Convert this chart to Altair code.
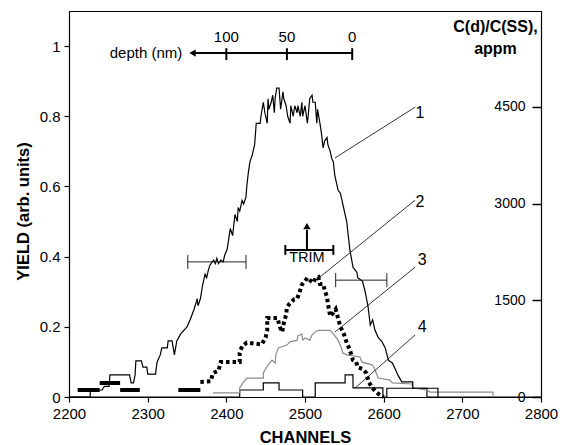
import altair as alt
import pandas as pd

# ---------------- data (channel, yield) ----------------
curve1 = [(2200,0),(2227,0),(2227,0.02),(2242,0.02),(2245,0.03),(2251,0.03),(2252,0.063),(2277,0.063),
          (2279,0.04),(2282,0.04),(2284,0.063),(2285,0.103),(2292,0.103),(2294,0.085),(2299,0.085),
          (2300,0.065),(2310,0.065),(2312,0.1),(2316,0.12),(2318,0.14),(2325,0.14),(2326,0.16),(2331,0.16),
          (2334,0.12),(2337,0.16),(2342,0.18),(2350,0.2),(2354,0.22),(2359,0.25),(2363,0.28),(2364,0.26),
          (2367,0.28),(2370,0.32),(2373,0.35),(2375,0.34),(2377,0.36),(2379,0.375),(2382,0.385),(2384,0.39),
          (2386,0.38),(2388,0.395),(2390,0.38),(2393,0.39),(2396,0.385),(2398,0.405),(2401,0.42),(2405,0.48),
          (2408,0.46),(2411,0.52),(2414,0.5),(2415,0.54),(2417,0.53),(2420,0.56),(2422,0.55),(2425,0.57),
          (2426,0.6),(2428,0.64),(2430,0.67),(2433,0.69),(2434,0.7),(2436,0.72),(2438,0.78),(2443,0.78),
          (2444,0.8),(2447,0.84),(2449,0.81),(2452,0.78),(2453,0.85),(2454,0.82),(2457,0.84),(2459,0.86),
          (2461,0.81),(2462,0.85),(2464,0.88),(2467,0.88),(2469,0.82),(2472,0.87),(2473,0.85),(2476,0.83),
          (2478,0.8),(2481,0.78),(2482,0.83),(2485,0.8),(2487,0.83),(2490,0.81),(2491,0.83),(2494,0.8),
          (2496,0.84),(2497,0.8),(2500,0.83),(2503,0.78),(2504,0.8),(2506,0.85),(2509,0.86),(2510,0.84),
          (2513,0.84),(2515,0.78),(2516,0.82),(2519,0.78),(2521,0.75),(2523,0.71),(2525,0.73),(2528,0.74),
          (2529,0.72),(2532,0.7),(2534,0.68),(2536,0.67),(2538,0.63),(2541,0.6),(2542,0.59),(2545,0.58),
          (2547,0.56),(2548,0.55),(2553,0.5),(2557,0.42),(2561,0.37),(2566,0.355),(2567,0.34),(2573,0.33),
          (2576,0.305),(2580,0.26),(2583,0.205),(2586,0.22),(2589,0.19),(2593,0.17),(2598,0.157),(2602,0.14),
          (2606,0.105),(2611,0.097),(2614,0.083),(2618,0.063),(2623,0.043),(2637,0.043),(2637,0.025),
          (2669,0.025),(2669,0)]

# curve 2: (channel, yield, segment)
curve2 = [(2211,0.02,0),(2239,0.02,0),(2239,0.04,1),(2265,0.04,1),(2265,0.02,2),(2290,0.02,2),
          (2339,0.02,3),(2367,0.02,3),
          (2367,0.043,4),(2380,0.045,4),(2383,0.068,4),(2390,0.075,4),(2393,0.1,4),(2417,0.1,4),(2417,0.125,4),
          (2420,0.145,4),(2426,0.155,4),(2445,0.15,4),(2450,0.17,4),(2452,0.19,4),(2452,0.225,4),(2465,0.225,4),
          (2468,0.2,4),(2471,0.185,4),(2473,0.21,4),(2476,0.235,4),(2477,0.255,4),(2480,0.265,4),(2486,0.278,4),
          (2490,0.28,4),(2494,0.305,4),(2496,0.32,4),(2500,0.33,4),(2503,0.34,4),(2510,0.325,4),(2514,0.34,4),
          (2517,0.342,4),(2519,0.322,4),(2523,0.322,4),(2525,0.305,4),(2528,0.285,4),(2529,0.268,4),(2532,0.23,4),
          (2536,0.24,4),(2539,0.25,4),(2542,0.225,4),(2545,0.2,4),(2549,0.182,4),(2553,0.155,4),(2557,0.134,4),
          (2561,0.105,4),(2565,0.1,4),(2567,0.085,4),(2573,0.08,4),(2578,0.068,4),(2581,0.043,4),(2585,0.028,4),
          (2590,0.014,4),(2596,0.005,4),(2600,0,4)]

curve3 = [(2383,0.012),(2417,0.012),(2417,0.026),(2421,0.04),(2426,0.054),(2447,0.054),(2447,0.068),
          (2449,0.077),(2453,0.091),(2458,0.105),(2462,0.097),(2463,0.12),(2466,0.14),(2477,0.148),
          (2481,0.157),(2490,0.162),(2491,0.174),(2496,0.18),(2497,0.162),(2500,0.168),(2506,0.162),
          (2509,0.177),(2513,0.185),(2517,0.19),(2532,0.19),(2534,0.185),(2538,0.174),(2542,0.162),
          (2546,0.142),(2548,0.125),(2553,0.12),(2570,0.114),(2572,0.1),(2586,0.091),(2589,0.077),
          (2593,0.054),(2608,0.048),(2611,0.04),(2636,0.037),(2637,0.026),(2655,0.02),(2659,0.014),
          (2739,0.014),(2739,0)]

curve4 = [(2200,0),(2417,0),(2417,0.02),(2447,0.02),(2447,0.04),(2467,0.04),(2467,0.02),(2497,0.02),
          (2497,0),(2513,0),(2513,0.04),(2551,0.04),(2551,0.063),(2561,0.063),(2561,0.026),(2599,0.026),
          (2599,0),(2604,0),(2604,0.025),(2655,0.025),(2655,0),(2800,0)]

x_ticks = [2200, 2300, 2400, 2500, 2600, 2700, 2800]
y_ticks = [0, 0.2, 0.4, 0.6, 0.8, 1]
c_ticks = [0, 1500, 3000, 4500]
X_DOMAIN = [2200, 2800]
Y_DOMAIN = [0, 1.1]
C_DOMAIN = [0, 5985]

# curve labels and leader lines
label_text = ["1", "2", "3", "4"]
label_ch = [2646, 2646, 2649, 2649]
label_y = [0.809, 0.556, 0.39, 0.199]
lead_ch = [2538, 2519, 2538, 2564]
lead_y = [0.681, 0.342, 0.185, 0.026]
lead_ch2 = [2640, 2640, 2640, 2640]
lead_y2 = [0.826, 0.561, 0.370, 0.177]

# horizontal error bars (start, end, level)
err_ch1 = [2351, 2539]
err_ch2 = [2425, 2604]
err_y = [0.385, 0.333]

# TRIM marker
trim_ch1, trim_ch2, trim_y = 2475, 2536, 0.419
trim_mid = 2502.5
trim_arrow_top = 0.476
trim_head_y = 0.487
trim_text_y = 0.396

# depth scale
depth_ch = [2400, 2477, 2560]
depth_labels = ["100", "50", "0"]
depth_line = (2360, 2560, 0.98)
depth_head = 2357
depth_label_y = 1.026
depth_title_ch = 2344

FONT = "Liberation Sans"
xs = alt.Scale(domain=X_DOMAIN, nice=False, zero=False)
ys = alt.Scale(domain=Y_DOMAIN, nice=False, zero=False)

x_axis = alt.Axis(
    values=x_ticks, format="d", title="CHANNELS", titleFontSize=16.5, titleFontWeight="bold",
    titleY=40, titleBaseline="middle", labelFontSize=15, tickSize=5, labelPadding=4,
    labelFlush=False, labelOverlap=False, grid=False, domainWidth=1.2, tickWidth=1.2)
y_axis = alt.Axis(
    values=y_ticks, format="~g", title="YIELD (arb. units)", titleFontSize=16.5,
    titleFontWeight="bold", titleAngle=270, titleX=-46, titleY=200, titleAlign="center",
    titleBaseline="middle", labelFontSize=15, tickSize=5, labelPadding=4, labelFlush=False,
    labelOverlap=False, grid=False, domainWidth=1.2, tickWidth=1.2)


def line_df(pts):
    return pd.DataFrame({"ch": [p[0] for p in pts], "y": [p[1] for p in pts],
                         "i": list(range(len(pts)))})


def X(field="ch:Q"):
    return alt.X(field, scale=xs, axis=x_axis)


def Y(field="y:Q"):
    return alt.Y(field, scale=ys, axis=y_axis)


c1 = alt.Chart(line_df(curve1)).mark_line(color="black", strokeWidth=1.2).encode(
    x=X(), y=Y(), order="i:Q")

df2 = line_df(curve2)
df2["seg"] = [p[2] for p in curve2]
df2["style"] = ["solid" if s < 4 else "dot" for s in df2["seg"]]
c2 = alt.Chart(df2).mark_line(color="black", strokeWidth=4, strokeCap="butt").encode(
    x=X(), y=Y(), detail="seg:N", order="i:Q",
    strokeDash=alt.StrokeDash("style:N", scale=alt.Scale(domain=["solid", "dot"],
                                                         range=[[1, 0], [3.5, 3]]), legend=None))

c3 = alt.Chart(line_df(curve3)).mark_line(color="#8c8c8c", strokeWidth=1.2).encode(
    x=X(), y=Y(), order="i:Q")
c4 = alt.Chart(line_df(curve4)).mark_line(color="black", strokeWidth=1.2).encode(
    x=X(), y=Y(), order="i:Q")

# leader lines and labels
lead_df = pd.DataFrame({"x": lead_ch, "y": lead_y, "x2": lead_ch2, "y2": lead_y2})
leaders = alt.Chart(lead_df).mark_rule(color="black", strokeWidth=0.8).encode(
    x=X("x:Q"), y=Y("y:Q"), x2="x2:Q", y2="y2:Q")
lab_df = pd.DataFrame({"t": label_text, "x": label_ch, "y": label_y})
labels = alt.Chart(lab_df).mark_text(fontSize=16, color="black", font=FONT).encode(
    x=X("x:Q"), y=Y("y:Q"), text="t:N")

# error bars
cap = 0.02
err_rows = []
for a, b, yv in zip(err_ch1, err_ch2, err_y):
    err_rows.append({"x": a, "x2": b, "y": yv, "y2": yv})
    err_rows.append({"x": a, "x2": a, "y": yv - cap, "y2": yv + cap})
    err_rows.append({"x": b, "x2": b, "y": yv - cap, "y2": yv + cap})
errs = alt.Chart(pd.DataFrame(err_rows)).mark_rule(color="#222222", strokeWidth=1).encode(
    x=X("x:Q"), x2="x2:Q", y=Y("y:Q"), y2="y2:Q")

# TRIM marker + depth scale (thick rules)
tcap = 0.014
dcap_lo, dcap_hi = 0.960, 0.994
thick_rows = [
    {"x": trim_ch1, "x2": trim_ch2, "y": trim_y, "y2": trim_y},
    {"x": trim_ch1, "x2": trim_ch1, "y": trim_y - tcap, "y2": trim_y + tcap},
    {"x": trim_ch2, "x2": trim_ch2, "y": trim_y - tcap, "y2": trim_y + tcap},
    {"x": trim_mid, "x2": trim_mid, "y": trim_y, "y2": trim_arrow_top},
    {"x": depth_line[0], "x2": depth_line[1], "y": depth_line[2], "y2": depth_line[2]},
]
for d in depth_ch:
    thick_rows.append({"x": d, "x2": d, "y": dcap_lo, "y2": dcap_hi})
thick = alt.Chart(pd.DataFrame(thick_rows)).mark_rule(color="black", strokeWidth=2).encode(
    x=X("x:Q"), x2="x2:Q", y=Y("y:Q"), y2="y2:Q")

heads_df = pd.DataFrame({"x": [depth_head, trim_mid], "y": [depth_line[2], trim_head_y],
                         "shape": ["triangle-left", "triangle-up"]})
heads = alt.Chart(heads_df).mark_point(filled=True, color="black", opacity=1, size=55).encode(
    x=X("x:Q"), y=Y("y:Q"),
    shape=alt.Shape("shape:N", scale=None, legend=None))

trim_text = alt.Chart(pd.DataFrame({"t": ["TRIM"], "x": [trim_mid], "y": [trim_text_y]})).mark_text(
    fontSize=14.5, color="black", font=FONT).encode(x=X("x:Q"), y=Y("y:Q"), text="t:N")

depth_txt = alt.Chart(pd.DataFrame({"t": depth_labels, "x": depth_ch,
                                    "y": [depth_label_y] * len(depth_ch)})).mark_text(
    fontSize=15, color="black", font=FONT).encode(x=X("x:Q"), y=Y("y:Q"), text="t:N")
depth_title = alt.Chart(pd.DataFrame({"t": ["depth (nm)"], "x": [depth_title_ch],
                                      "y": [depth_line[2]]})).mark_text(
    fontSize=15, color="black", font=FONT, align="right").encode(x=X("x:Q"), y=Y("y:Q"), text="t:N")

main = alt.layer(c4, c3, c1, c2, leaders, labels, errs, thick, heads, trim_text, depth_txt, depth_title)

right = alt.Chart(pd.DataFrame({"c": c_ticks})).mark_point(opacity=0).encode(
    y=alt.Y("c:Q", scale=alt.Scale(domain=C_DOMAIN, nice=False, zero=True),
            axis=alt.Axis(orient="left", offset=-472, values=c_ticks, format="d", tickSize=9,
                          labelPadding=7, labelFontSize=14, domainWidth=1.2, tickWidth=1.5,
                          labelFlush=False, labelOverlap=False, grid=False,
                          title=["C(d)/C(SS),", "appm"], titleAngle=0, titleX=-46, titleY=20,
                          titleAlign="center", titleBaseline="alphabetic", titleFontSize=16,
                          titleFontWeight="bold", titleLineHeight=22)))

chart = alt.layer(main, right).resolve_scale(y="independent").properties(
    width=472, height=386,
    autosize=alt.AutoSizeParams(type="none"),
    padding={"left": 69, "top": 11, "right": 31, "bottom": 48},
    background="white",
).configure_view(stroke="black", strokeWidth=1).configure_axis(
    labelFont=FONT, titleFont=FONT, labelColor="black", titleColor="black",
    tickColor="black", domainColor="black")

chart.save("out.html", embed_options={"renderer": "svg", "actions": False})
